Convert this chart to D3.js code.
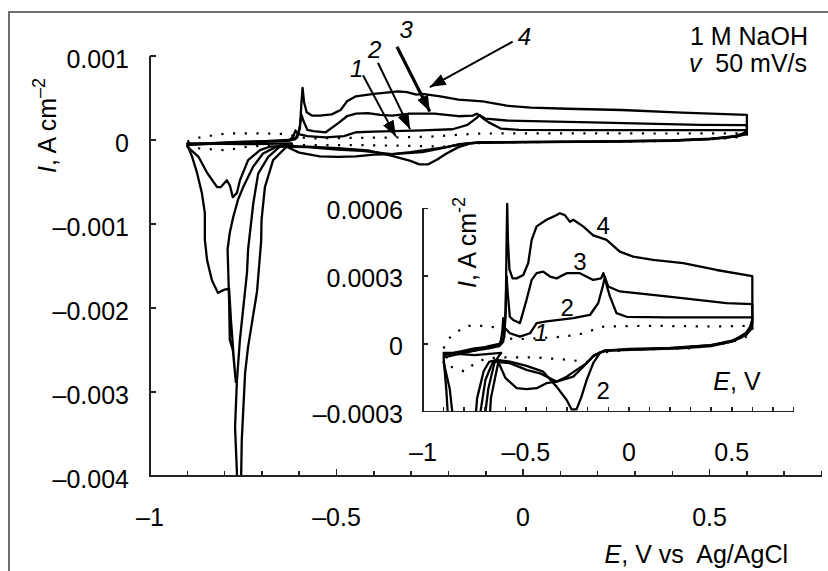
<!DOCTYPE html>
<html lang="en">
<head>
<meta charset="UTF-8">
<script src="https://d3js.org/d3.v7.min.js"></script>
<title>CV in 1 M NaOH</title>
<style>
  body { margin: 0; background: #fff; }
  svg { display: block; font-family: "Liberation Sans", Arial, sans-serif; }
  text { fill: #000; }
</style>
</head>
<body>
<div id="chart"></div>
<script>
// ---- data: [E (V), I (A cm^-2)], each a full loop from the cathodic limit ----
const curve1 = [
  [-0.9,-0.00002],[-0.88,0.00002],[-0.84,0.00005],[-0.79,0.00008],[-0.7,0.00008],[-0.63,0.00007],
  [-0.6,0.00003],[-0.56,0.00002],[-0.45,0.000025],[-0.35,0.00003],[-0.25,0.00004],[-0.18,0.00006],
  [-0.12,0.000077],[0.1,0.00008],[0.4,0.000077],[0.6,0.00008],
  [0.6,0.00005],[0.55,0.00002],[0.45,0.0],[0.3,-0.00002],[0.0,-0.000025],[-0.15,-0.00004],
  [-0.2,-0.00008],[-0.3,-0.00007],[-0.45,-0.00006],[-0.6,-0.00006],[-0.69,-0.000063],
  [-0.748,-0.000085],[-0.796,-0.000123],[-0.869,-0.0001],[-0.9,-0.00002]
];
const curve2 = [
  [-0.9,-0.00005],[-0.85,-0.00004],[-0.75,-0.00002],[-0.65,-0.00001],[-0.625,0.0],[-0.615,0.00005],
  [-0.61,0.000114],[-0.602,0.00007],[-0.578,0.000047],[-0.529,0.000032],[-0.48,0.000047],
  [-0.448,0.000092],[-0.4,0.0001],[-0.27,0.000114],[-0.189,0.000128],[-0.149,0.00018],
  [-0.125,0.00026],[-0.117,0.000295],[-0.105,0.00025],[-0.092,0.00021],[-0.06,0.000136],
  [-0.011,0.00012],[0.183,0.000117],[0.6,0.000117],
  [0.6,0.00007],[0.57,0.00004],[0.5,0.000015],[0.4,-0.000005],[0.2,-0.000018],[0.0,-0.000022],
  [-0.12,-0.00003],[-0.141,-0.000041],[-0.173,-0.000085],[-0.205,-0.00016],[-0.23,-0.000233],
  [-0.254,-0.00029],[-0.278,-0.00029],[-0.302,-0.000248],[-0.351,-0.000189],[-0.416,-0.000123],
  [-0.497,-0.000097],[-0.578,-0.000078],[-0.642,-0.000071],[-0.679,-0.00008],[-0.705,-0.00012],
  [-0.737,-0.00024],[-0.759,-0.00048],[-0.767,-0.00063],[-0.778,-0.00068],[-0.786,-0.00054],
  [-0.794,-0.00048],[-0.81,-0.00056],[-0.82,-0.00056],[-0.847,-0.00039],[-0.87,-0.0002],[-0.9,-0.00008]
];
const curve3 = [
  [-0.9,-0.00006],[-0.85,-0.00005],[-0.75,-0.00003],[-0.68,-0.00002],[-0.63,-0.00001],[-0.61,0.00001],
  [-0.6,0.00012],[-0.594,0.0003],[-0.588,0.00022],[-0.578,0.00012],[-0.562,0.000106],[-0.529,0.000092],
  [-0.497,0.000195],[-0.472,0.000283],[-0.448,0.000313],[-0.416,0.00032],[-0.383,0.000298],
  [-0.351,0.00029],[-0.302,0.000313],[-0.238,0.000313],[-0.173,0.000283],[-0.135,0.00029],
  [-0.124,0.000313],[-0.1,0.000254],[-0.044,0.000232],[0.183,0.00021],[0.474,0.00018],[0.6,0.000176],
  [0.6,0.00009],[0.57,0.00005],[0.5,0.00001],[0.4,-0.000005],[0.2,-0.00002],[0.0,-0.000025],
  [-0.12,-0.00003],[-0.17,-0.00005],[-0.22,-0.0001],[-0.27,-0.000145],[-0.351,-0.000167],
  [-0.432,-0.00013],[-0.497,-0.000115],[-0.578,-0.000085],[-0.658,-0.000078],[-0.67,-0.0001],
  [-0.697,-0.00016],[-0.724,-0.00032],[-0.75,-0.00056],[-0.764,-0.00071],[-0.777,-0.00092],
  [-0.786,-0.0011],[-0.792,-0.0013],[-0.788,-0.0019],[-0.786,-0.00238],[-0.778,-0.0025],
  [-0.77,-0.00288],[-0.775,-0.00262],[-0.783,-0.00214],[-0.788,-0.00177],[-0.8,-0.00178],
  [-0.818,-0.00182],[-0.834,-0.00167],[-0.847,-0.00143],[-0.853,-0.00119],[-0.853,-0.00087],
  [-0.861,-0.00063],[-0.874,-0.00039],[-0.887,-0.0002],[-0.9,-0.00006]
];
const curve4 = [
  [-0.9,-0.00004],[-0.85,-0.00004],[-0.75,-0.00003],[-0.68,-0.00001],[-0.63,0.0],[-0.605,0.00003],
  [-0.598,0.00015],[-0.594,0.00045],[-0.591,0.00062],[-0.587,0.00045],[-0.58,0.00033],
  [-0.565,0.00029],[-0.545,0.00029],[-0.513,0.000305],[-0.489,0.000357],[-0.472,0.00046],
  [-0.448,0.00052],[-0.4,0.000549],[-0.367,0.000563],[-0.335,0.000578],[-0.311,0.00057],
  [-0.286,0.00054],[-0.27,0.000549],[-0.222,0.00052],[-0.173,0.00048],[-0.108,0.00046],
  [-0.044,0.000408],[0.021,0.000386],[0.118,0.000372],[0.264,0.000357],[0.426,0.000327],[0.6,0.0003],
  [0.6,0.00011],[0.585,0.00006],[0.55,0.00003],[0.5,0.00001],[0.4,-0.00001],[0.25,-0.00002],
  [0.05,-0.000025],[-0.1,-0.00003],[-0.141,-0.000038],[-0.173,-0.000056],[-0.205,-0.000085],
  [-0.254,-0.000115],[-0.302,-0.000145],[-0.351,-0.000167],[-0.4,-0.000174],[-0.448,-0.000196],
  [-0.497,-0.0002],[-0.545,-0.000196],[-0.6,-0.00015],[-0.634,-0.00008],[-0.67,-0.00024],
  [-0.692,-0.00056],[-0.701,-0.00095],[-0.702,-0.0012],[-0.713,-0.0018],[-0.737,-0.00246],
  [-0.745,-0.00277],[-0.754,-0.00357],[-0.758,-0.0046],[-0.768,-0.0046],[-0.767,-0.00396],
  [-0.772,-0.00342],[-0.767,-0.00286],[-0.759,-0.00238],[-0.74,-0.00158],[-0.737,-0.0013],
  [-0.723,-0.00075],[-0.71,-0.0004],[-0.683,-0.0002],[-0.652,-0.00008],[-0.62,-0.00004],
  [-0.75,-0.00005],[-0.9,-0.00004]
];
const curves = [
  { name: "1", pts: curve1, dotted: true },
  { name: "2", pts: curve2 },
  { name: "3", pts: curve3 },
  { name: "4", pts: curve4 }
];

const mainXTicks = [-1, -0.5, 0, 0.5];
const mainYTicks = [0.001, 0, -0.001, -0.002, -0.003, -0.004];
const insetXTicks = [-1, -0.5, 0, 0.5];
const insetYTicks = [0.0006, 0.0003, 0, -0.0003];
const minorX = d3.range(-10, 9).map(v => v / 10);   // 0.1 V minor ticks on both plots

// arrows in main-plot data coordinates: label, from, to
const arrows = [
  { label: "1", from: [-0.429, 0.00077], to: [-0.341, 0.00004], lab: [-0.446, 0.00075], w: 2 },
  { label: "2", from: [-0.389, 0.00092], to: [-0.303, 0.00013], lab: [-0.398, 0.00098], w: 2 },
  { label: "3", from: [-0.338, 0.00111], to: [-0.25, 0.00034], lab: [-0.313, 0.00121], w: 3.2 },
  { label: "4", from: [-0.028, 0.00117], to: [-0.25, 0.00063], lab: [0.004, 0.00113], w: 2 }
];
const insetLabels = [
  { t: "4", at: [-0.125, 0.000487] },
  { t: "3", at: [-0.237, 0.000327] },
  { t: "2", at: [-0.3, 0.000124] },
  { t: "1", at: [-0.427, 0.000013], italic: true },
  { t: "2", at: [-0.125, -0.000243] }
];

const W = 828, H = 571;
const font = 25;
const fmt = d => d === 0 ? "0" : (d < 0 ? "\u2013" : "") + String(Math.abs(d));
const axisColor = "#222";

const svg = d3.select("#chart").append("svg").attr("width", W).attr("height", H);

// outer frame (only top and left visible)
svg.append("path").attr("d", "M9,571V12H828").attr("fill", "none")
  .attr("stroke", "#6e6e6e").attr("stroke-width", 2);

// ---------- main plot ----------
const x = d3.scaleLinear().domain([-1, 0.8]).range([150, 821.5]);
const y = d3.scaleLinear().domain([-0.004, 0.001]).range([476, 56]);

const defs = svg.append("defs");
defs.append("clipPath").attr("id", "clipMain").append("rect")
  .attr("x", 150).attr("y", 40).attr("width", 680).attr("height", 436);
defs.append("clipPath").attr("id", "clipInset").append("rect")
  .attr("x", 423).attr("y", 202).attr("width", 380).attr("height", 209.7);
defs.append("marker").attr("id", "head").attr("viewBox", "0 -6 16 12")
  .attr("refX", 16).attr("refY", 0).attr("markerUnits", "userSpaceOnUse")
  .attr("markerWidth", 16).attr("markerHeight", 12).attr("orient", "auto")
  .append("path").attr("d", "M0,-6L16,0L0,6Z").attr("fill", "#000");

function drawCurves(g, sx, sy, clip) {
  const line = d3.line().x(d => sx(d[0])).y(d => sy(d[1]));
  g.append("g").attr("clip-path", `url(#${clip})`)
    .selectAll("path").data(curves).join("path")
    .attr("d", d => line(d.pts))
    .attr("fill", "none")
    .attr("stroke", "#000")
    .attr("stroke-width", d => d.dotted ? 2.2 : 2.3)
    .attr("stroke-linejoin", "round")
    .attr("stroke-linecap", d => d.dotted ? "butt" : "round")
    .attr("stroke-dasharray", d => d.dotted ? "2.2,9.5" : null);
}

// axis helper: L-shaped frame + inward ticks
function drawAxes(g, sx, sy, yTicks, majorLen, minorLen, yLen) {
  const xa = sx.range()[0], xb = sx.range()[1];
  const yBottom = sy.range()[0], yTop = sy.range()[1];
  const ax = g.append("g").attr("shape-rendering", "crispEdges");
  ax.append("path").attr("d", `M${xa},${yTop}V${yBottom}H${xb}`)
    .attr("fill", "none").attr("stroke", axisColor).attr("stroke-width", 1.4);
  ax.append("g").selectAll("line").data(minorX).join("line")
    .attr("x1", d => sx(d)).attr("x2", d => sx(d))
    .attr("y1", yBottom)
    .attr("y2", d => yBottom - (Math.abs(Math.round(d * 10)) % 5 === 0 ? majorLen : minorLen))
    .attr("stroke", axisColor).attr("stroke-width", 1.5);
  ax.append("g").selectAll("line").data(yTicks).join("line")
    .attr("x1", xa).attr("x2", xa + yLen)
    .attr("y1", d => sy(d)).attr("y2", d => sy(d))
    .attr("stroke", axisColor).attr("stroke-width", 1.5);
}

const gMain = svg.append("g");
drawCurves(gMain, x, y, "clipMain");
drawAxes(gMain, x, y, mainYTicks, 7, 5, 6);

gMain.append("g").selectAll("text").data(mainXTicks).join("text")
  .attr("x", d => x(d)).attr("y", 526).attr("text-anchor", "middle")
  .attr("font-size", font).text(fmt);
gMain.append("g").selectAll("text").data(mainYTicks).join("text")
  .attr("x", 129).attr("y", d => y(d) + 12).attr("text-anchor", "end")
  .attr("font-size", font).text(fmt);

// main axis titles
const ylab = gMain.append("text").attr("transform", "translate(56,173) rotate(-90)")
  .attr("font-size", font);
ylab.append("tspan").attr("font-style", "italic").text("I");
ylab.append("tspan").text(", A cm");
ylab.append("tspan").attr("font-size", 18).attr("dy", -11).text("\u20132");

const xlab = gMain.append("text").attr("x", 788).attr("y", 563).attr("text-anchor", "end")
  .attr("font-size", font);
xlab.append("tspan").attr("font-style", "italic").text("E");
xlab.append("tspan").attr("xml:space", "preserve").text(", V vs  Ag/AgCl");

// conditions
svg.append("text").attr("x", 808).attr("y", 45).attr("text-anchor", "end")
  .attr("font-size", font).text("1 M NaOH");
const cond = svg.append("text").attr("x", 807).attr("y", 72).attr("text-anchor", "end")
  .attr("font-size", font);
cond.append("tspan").attr("font-style", "italic").text("v");
cond.append("tspan").text("  50 mV/s").attr("xml:space", "preserve");

// arrows + labels
gMain.append("g").selectAll("line").data(arrows).join("line")
  .attr("x1", d => x(d.from[0])).attr("y1", d => y(d.from[1]))
  .attr("x2", d => x(d.to[0])).attr("y2", d => y(d.to[1]))
  .attr("stroke", "#000").attr("stroke-width", d => d.w)
  .attr("marker-end", "url(#head)");
gMain.append("g").selectAll("text").data(arrows).join("text")
  .attr("x", d => x(d.lab[0])).attr("y", d => y(d.lab[1]))
  .attr("text-anchor", "middle").attr("font-size", 24).attr("font-style", "italic")
  .text(d => d.label);

// ---------- inset ----------
const xi = d3.scaleLinear().domain([-1, 0.8]).range([423, 793.5]);
const yi = d3.scaleLinear().domain([-0.0003, 0.0006]).range([411.7, 208.3]);
const gIn = svg.append("g");
drawCurves(gIn, xi, yi, "clipInset");
drawAxes(gIn, xi, yi, insetYTicks, 5, 5, 5);

gIn.append("g").selectAll("text").data(insetXTicks).join("text")
  .attr("x", d => xi(d)).attr("y", 461).attr("text-anchor", "middle")
  .attr("font-size", font).text(fmt);
gIn.append("g").selectAll("text").data(insetYTicks).join("text")
  .attr("x", 403).attr("y", d => yi(d) + 11).attr("text-anchor", "end")
  .attr("font-size", font).text(d => d === 0 ? "0" : (d < 0 ? "\u2013" : "") + Math.abs(d).toFixed(4));

const ylabI = gIn.append("text").attr("transform", "translate(476,288) rotate(-90)")
  .attr("font-size", font);
ylabI.append("tspan").attr("font-style", "italic").text("I");
ylabI.append("tspan").text(", A cm");
ylabI.append("tspan").attr("font-size", 18).attr("dy", -11).text("-2");

const xlabI = gIn.append("text").attr("x", 737).attr("y", 390).attr("text-anchor", "middle")
  .attr("font-size", font);
xlabI.append("tspan").attr("font-style", "italic").text("E");
xlabI.append("tspan").text(", V");

gIn.append("g").selectAll("text").data(insetLabels).join("text")
  .attr("x", d => xi(d.at[0])).attr("y", d => yi(d.at[1]))
  .attr("text-anchor", "middle").attr("font-size", 24)
  .attr("font-style", d => d.italic ? "italic" : "normal")
  .text(d => d.t);
</script>
</body>
</html>
